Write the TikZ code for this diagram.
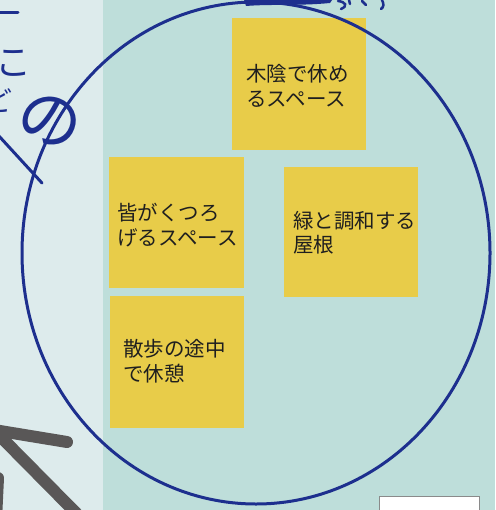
\documentclass[tikz,border=0pt]{standalone}
\usepackage{fontspec}
\newfontfamily\jp{Noto Sans CJK JP}
\definecolor{leftbg}{HTML}{DDEBEC}
\definecolor{rightbg}{HTML}{BEDEDA}
\definecolor{gold}{HTML}{E8CC49}
\definecolor{inkblue}{HTML}{1D2F8E}
\definecolor{arrowgray}{HTML}{595757}
\definecolor{boxgray}{HTML}{8A8A8A}
\tikzset{
  sticky/.style={fill=gold, draw=none, inner sep=0pt},
  notetext/.style={anchor=west, inner sep=0pt, align=left, text=black!88,
    font=\jp\fontsize{20.5}{24.5}\selectfont},
  hand/.style={text=inkblue, inner sep=0pt},
  bluestroke/.style={draw=inkblue, line width=3pt, line cap=round},
  graystroke/.style={draw=arrowgray, line width=12pt, line cap=round}
}
\begin{document}
\begin{tikzpicture}[x=1pt, y=-1pt]
\useasboundingbox (0,0) rectangle (495,510);
\clip (0,0) rectangle (495,510);
% backgrounds
\fill[rightbg] (0,0) rectangle (495,510);
\fill[leftbg] (0,0) rectangle (103,510);
% sticky notes
\node[sticky, minimum width=134pt, minimum height=132pt] (n1) at (299,84) {};
\node[sticky, minimum width=135pt, minimum height=131pt] (n2) at (176.5,222.5) {};
\node[sticky, minimum width=134pt, minimum height=130pt] (n3) at (351,232) {};
\node[sticky, minimum width=134pt, minimum height=132pt] (n4) at (177,362) {};
\node[notetext] (t1) at (246,86) {木陰で休め\\るスペース};
\node[notetext] (t2) at (117,225) {皆がくつろ\\げるスペース};
\node[notetext] (t3) at (293,232.5) {緑と調和する\\屋根};
\node[notetext] (t4) at (123,361) {散歩の途中\\で休憩};
% white box bottom right
\node[fill=white, draw=boxgray, line width=1pt, minimum width=100pt, minimum height=30pt, anchor=north west, inner sep=0pt] (wb) at (379,496) {};
% handwritten fragments on the left
\node[hand, font=\jp\fontsize{36}{36}\selectfont] (hk) at (13,63) {こ};
\node[hand, font=\jp\fontsize{28}{28}\selectfont] (hd) at (-2,101) {ど};
\node[hand, font=\jp\fontsize{64}{64}\selectfont, rotate=-20] (hn) at (50,121) {の};
\coordinate (d1) at (-2,135);
\coordinate (d2) at (42,183);
\draw[bluestroke] (d1) -- (d2);
\draw[bluestroke] (-2,13) -- (18,13);
% top fragments
\fill[inkblue] (244,0) -- (332,0) -- (330,3) .. controls (300,6) and (270,4) .. (246,6) -- cycle;
\draw[inkblue, line width=2.5pt, line cap=round] (338,1) .. controls (346,2) and (348,6) .. (341,9);
\draw[inkblue, line width=2.5pt, line cap=round] (349,0) -- (350,4);
\draw[inkblue, line width=2.5pt, line cap=round] (362,1) -- (366,5);
\draw[inkblue, line width=2.5pt, line cap=round] (382,0) .. controls (384,4) and (384,7) .. (381,9);
% big ellipse
\coordinate (ec) at (256,253);
\draw[inkblue, line width=3pt] (ec) ellipse [x radius=234, y radius=251];
% gray arrow strokes
\coordinate (apex) at (-6,430);
\coordinate (a1) at (67,442);
\coordinate (a2) at (78,515);
\coordinate (a3) at (-2,478);
\coordinate (a4) at (-4,520);
\draw[graystroke] (apex) -- (a1);
\draw[graystroke] (apex) -- (a2);
\draw[graystroke] (a3) -- (a4);
\end{tikzpicture}
\end{document}
